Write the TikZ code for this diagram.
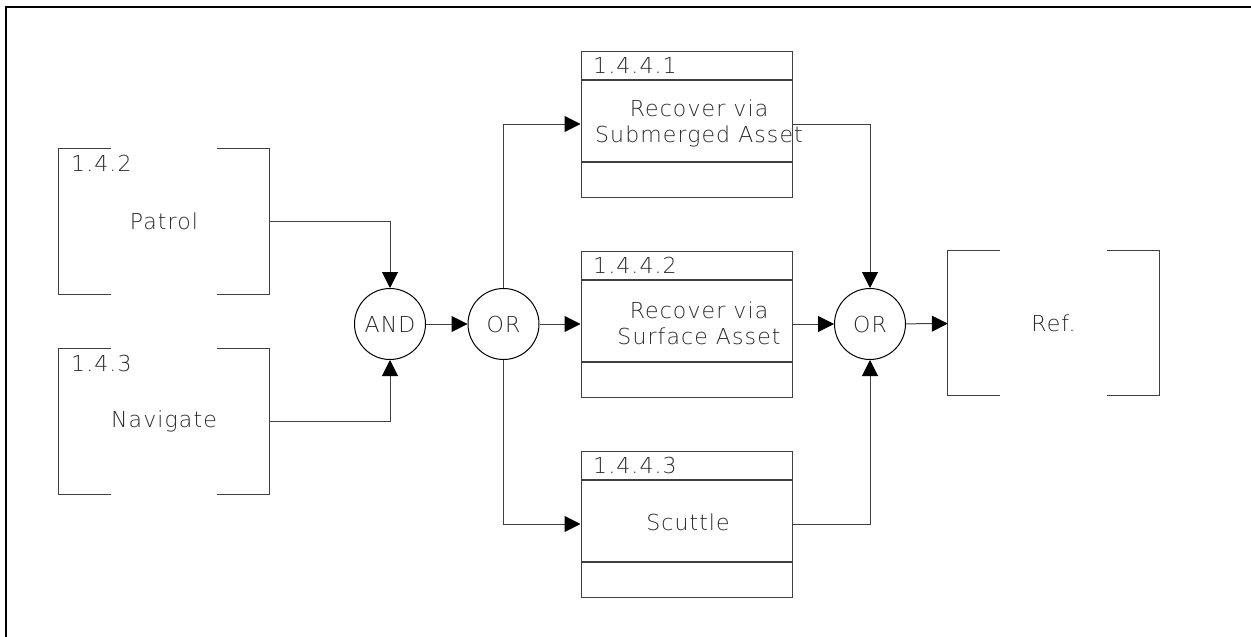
\documentclass[tikz,border=0pt]{standalone}
\usepackage{fontspec}
\setmainfont{DejaVu Sans ExtraLight}[LetterSpace=5]
\usetikzlibrary{arrows.meta}
\definecolor{txt}{HTML}{2A2A2A}
\definecolor{ln}{HTML}{404040}
\begin{document}
\begin{tikzpicture}[x=1pt,y=-1pt,
  font=\fontsize{22}{26}\selectfont, text=txt,
  funcbox/.style={draw=ln, line width=1pt, minimum width=211pt, minimum height=146pt, inner sep=0pt,
    path picture={
      \draw[ln,line width=2pt] ([yshift=-29pt]path picture bounding box.north west) -- ([yshift=-29pt]path picture bounding box.north east);
      \draw[ln,line width=2pt] ([yshift=35pt]path picture bounding box.south west) -- ([yshift=35pt]path picture bounding box.south east);}},
  bracketbox/.style={minimum width=210pt, minimum height=145pt, inner sep=0pt},
  gate/.style={circle, draw=black, line width=1pt, minimum size=71pt, inner sep=0pt},
  num/.style={anchor=west, inner sep=0pt},
  lbl/.style={inner sep=0pt, align=center},
  conn/.style={draw=ln, line width=1pt, -{Triangle[length=16pt,width=16pt,color=black]}},
  brk/.style={draw=ln, line width=1pt},
]
\useasboundingbox (0,0) rectangle (1251,637);
\draw[black, line width=1.2pt] (6,637) -- (6,7) -- (1251,7);

% left inputs
\node[bracketbox] (patrol) at (164,221.5) {Patrol};
\node[bracketbox] (navigate) at (164,421.5) {Navigate};
\node[num] (n142) at (71,163) {1.4.2};
\node[num] (n143) at (71,363) {1.4.3};

% gates
\node[gate] (and) at (390,324) {AND};
\node[gate] (or1) at (503.5,324) {OR};
\node[gate] (or2) at (870,324) {OR};

% function boxes
\node[funcbox] (b1) at (686.5,124) {};
\node[funcbox] (b2) at (686.5,324) {};
\node[funcbox] (b3) at (686.5,524) {};
\node[num] (n1441) at (593,65.5) {1.4.4.1};
\node[num] (n1442) at (593,265.5) {1.4.4.2};
\node[num] (n1443) at (593,465) {1.4.4.3};
\node[lbl] (t1) at (699,123) {Recover via\\Submerged Asset};
\node[lbl] (t2) at (699,323) {Recover via\\Surface Asset};
\node[lbl] (t3) at (688,522) {Scuttle};

% reference
\node[bracketbox, minimum width=211pt] (ref) at (1053.5,323) {Ref.};

% brackets
\foreach \n in {patrol,navigate,ref}{
  \draw[brk] ([xshift=52pt]\n.north west) -- (\n.north west) -- (\n.south west) -- ([xshift=52pt]\n.south west);
  \draw[brk] ([xshift=-52pt]\n.north east) -- (\n.north east) -- (\n.south east) -- ([xshift=-52pt]\n.south east);
}

% connectors
\draw[conn] (patrol.east) -| (and.north);
\draw[conn] (navigate.east) -| (and.south);
\draw[conn] (and) -- (or1);
\draw[conn] (or1.north) |- (b1.west);
\draw[conn] (or1) -- (b2);
\draw[conn] (or1.south) |- (b3.west);
\draw[conn] (b1.east) -| (or2.north);
\draw[conn] (b2) -- (or2);
\draw[conn] (b3.east) -| (or2.south);
\draw[conn] (or2) -- (ref);
\end{tikzpicture}
\end{document}
